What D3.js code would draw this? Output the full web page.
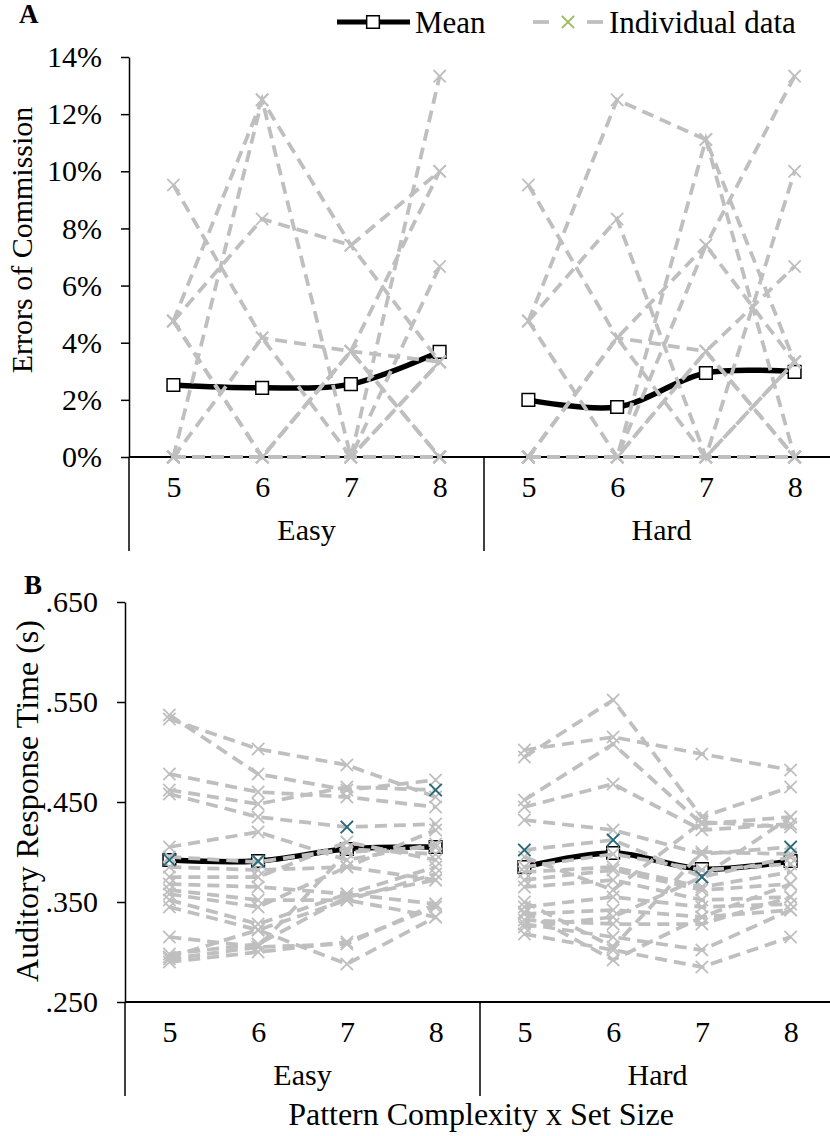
<!DOCTYPE html>
<html>
<head>
<meta charset="utf-8">
<script src="https://cdn.jsdelivr.net/npm/d3@7"></script>
<style>
  body { margin: 0; background: #fff; }
  svg { display: block; }
</style>
</head>
<body>
<div id="chart"></div>
<script>
// ---- data ----
const groups = ["Easy", "Hard"];
const setSizes = ["5", "6", "7", "8"];

// Panel A: errors of commission, percent. Order: Easy 5-8, Hard 5-8
const errMean = [2.52, 2.42, 2.55, 3.68, 2.00, 1.75, 2.94, 2.98];
const errIndividual = [
  [9.52, 4.17, 3.70, 3.33,   9.52, 4.17, 3.70, 0],
  [4.76, 8.33, 7.41, 10.00,  4.76, 8.33, 0, 10.00],
  [4.76, 0, 3.70, 0,         4.76, 0, 3.70, 6.67],
  [0, 12.50, 7.41, 3.33,     4.76, 12.50, 11.11, 3.33],
  [4.76, 12.50, 0, 13.33,    0, 0, 11.11, 0],
  [0, 4.17, 0, 6.67,         0, 4.17, 7.41, 13.33],
  [0, 0, 3.70, 0,            0, 0, 3.70, 0],
  [0, 0, 0, 3.33,            0, 0, 0, 3.33],
  [0, 0, 3.70, 10.00,        0, 0, 7.41, 3.33],
  [4.76, 0, 0, 3.33,         0, 4.17, 0, 3.33],
  [0, 0, 0, 0,               0, 0, 0, 0],
  [0, 0, 0, 0,               0, 0, 0, 0],
  [0, 0, 0, 0,               0, 0, 0, 0],
  [0, 0, 0, 0,               0, 0, 0, 0],
  [0, 0, 0, 0,               0, 0, 0, 0],
  [0, 0, 0, 0,               0, 0, 0, 0],
  [0, 0, 0, 0,               0, 0, 0, 0],
  [0, 0, 0, 0,               0, 0, 0, 0],
  [0, 0, 0, 0,               0, 0, 0, 0]
];
const errTicks = [0, 2, 4, 6, 8, 10, 12, 14];

// Panel B: auditory response time, seconds
const rtMean = [0.392, 0.391, 0.403, 0.405, 0.385, 0.399, 0.383, 0.391];
const rtHighlight = [0.392, 0.391, 0.425, 0.462, 0.402, 0.412, 0.375, 0.405];
const rtIndividual = [
  [0.537, 0.478, 0.462, 0.472,  0.502, 0.515, 0.498, 0.482],
  [0.533, 0.503, 0.487, 0.455,  0.495, 0.552, 0.435, 0.465],
  [0.478, 0.460, 0.455, 0.445,  0.452, 0.508, 0.428, 0.435],
  [0.462, 0.448, 0.465, 0.462,  0.445, 0.468, 0.422, 0.428],
  [0.458, 0.435, 0.425, 0.428,  0.432, 0.422, 0.398, 0.405],
  [0.405, 0.420, 0.392, 0.408,  0.402, 0.412, 0.375, 0.395],
  [0.395, 0.390, 0.403, 0.398,  0.385, 0.398, 0.382, 0.388],
  [0.385, 0.382, 0.385, 0.422,  0.372, 0.382, 0.362, 0.368],
  [0.375, 0.375, 0.410, 0.392,  0.365, 0.372, 0.352, 0.355],
  [0.368, 0.365, 0.358, 0.385,  0.345, 0.355, 0.345, 0.348],
  [0.362, 0.352, 0.352, 0.378,  0.338, 0.342, 0.335, 0.342],
  [0.358, 0.345, 0.385, 0.372,  0.332, 0.328, 0.328, 0.355],
  [0.352, 0.328, 0.358, 0.348,  0.328, 0.315, 0.302, 0.342],
  [0.345, 0.322, 0.352, 0.335,  0.318, 0.302, 0.285, 0.315],
  [0.315, 0.305, 0.400, 0.405,  0.340, 0.292, 0.335, 0.368],
  [0.298, 0.308, 0.355, 0.372,  0.325, 0.335, 0.375, 0.435],
  [0.295, 0.322, 0.288, 0.335,  0.350, 0.305, 0.400, 0.398],
  [0.293, 0.305, 0.308, 0.348,  0.395, 0.362, 0.430, 0.425],
  [0.290, 0.300, 0.310, 0.345,  0.380, 0.385, 0.365, 0.380]
];
const rtTicks = [0.25, 0.35, 0.45, 0.55, 0.65];

// ---- drawing ----
const W = 830, H = 1136;
const fontSize = 30;
const grey = "#bfbfbf";
const keys = groups.flatMap(g => setSizes.map(s => g + s));

const svg = d3.select("#chart").append("svg")
  .attr("width", W).attr("height", H)
  .style("background", "#fff");

const xSymbol = d3.symbol().type(d3.symbolX).size(100);
const squareSymbol = d3.symbol().type(d3.symbolSquare).size(160);

function drawPanel(o) {
  const g = svg.append("g");

  const x = d3.scalePoint().domain(keys).range([o.left, o.right]).padding(0.5);
  const y = d3.scaleLinear().domain(o.domain).range([o.bottom, o.top]);

  // y axis
  const yAxis = d3.axisLeft(y)
    .tickValues(o.ticks)
    .tickFormat(o.format)
    .tickSize(8)
    .tickSizeOuter(0)
    .tickPadding(19);
  const ya = g.append("g").attr("transform", `translate(${o.left},0)`).call(yAxis);
  ya.select(".domain").attr("stroke", "#000").attr("stroke-width", 1.5);
  ya.selectAll(".tick line").attr("stroke", "#000").attr("stroke-width", 1.5);

  // category axis line
  g.append("line")
    .attr("x1", o.left).attr("x2", W + 20)
    .attr("y1", y(o.domain[0])).attr("y2", y(o.domain[0]))
    .attr("stroke", "#000").attr("stroke-width", 2);

  // set size labels
  const xAxis = d3.axisBottom(x).tickSize(0).tickFormat(k => k.slice(-1));
  const xa = g.append("g").attr("transform", `translate(0,${o.bottom})`).call(xAxis);
  xa.select(".domain").remove();
  xa.selectAll(".tick text").attr("y", 40).attr("dy", 0);

  // group separators and labels
  const step = x.step();
  const bounds = [x(keys[0]) - step / 2, x(keys[4]) - step / 2, x(keys[7]) + step / 2];
  g.selectAll(".sep").data(bounds).enter().append("line")
    .attr("x1", d => d).attr("x2", d => d)
    .attr("y1", o.bottom).attr("y2", o.bottom + 94)
    .attr("stroke", "#000").attr("stroke-width", 1.5);
  g.selectAll(".grp").data(groups).enter().append("text")
    .attr("x", (d, i) => (x(keys[i * 4]) + x(keys[i * 4 + 3])) / 2)
    .attr("y", o.bottom + 83)
    .attr("text-anchor", "middle")
    .text(d => d);

  // y title
  g.append("text")
    .attr("class", "ytitle")
    .attr("transform", `translate(${o.titleX},${o.titleY}) rotate(-90)`)
    .attr("text-anchor", "middle")
    .attr("data-size", o.titleSize)
    .text(o.yTitle);

  // panel letter
  g.append("text")
    .attr("class", "letter")
    .attr("x", o.letterX).attr("y", o.letterY)
    .text(o.letter);

  const line = d3.line().x(d => x(d.k)).y(d => y(d.v));
  const smooth = d3.line().x(d => x(d.k)).y(d => y(d.v)).curve(d3.curveCatmullRom.alpha(0.5));

  // mean line (drawn first; individual lines sit on top of it)
  groups.forEach((grp, gi) => {
    const pts = setSizes.map((s, si) => ({ k: keys[gi * 4 + si], v: o.mean[gi * 4 + si] }));
    g.append("path").datum(pts)
      .attr("d", smooth)
      .attr("fill", "none").attr("stroke", "#000").attr("stroke-width", 5.5);
  });
  g.selectAll(".meanpt").data(o.mean).enter().append("path")
    .attr("d", squareSymbol)
    .attr("transform", (d, i) => `translate(${x(keys[i])},${y(d)})`)
    .attr("fill", "#fff").attr("stroke", "#000").attr("stroke-width", 1.5);

  // individual participants, one dashed line per difficulty group
  o.individual.forEach(row => {
    groups.forEach((grp, gi) => {
      const pts = setSizes.map((s, si) => ({ k: keys[gi * 4 + si], v: row[gi * 4 + si] }));
      g.append("path").datum(pts)
        .attr("d", line)
        .attr("fill", "none").attr("stroke", grey)
        .attr("stroke-width", 3.75).attr("stroke-dasharray", "12,7");
    });
    g.selectAll(null).data(row).enter().append("path")
      .attr("d", xSymbol)
      .attr("transform", (d, i) => `translate(${x(keys[i])},${y(d)})`)
      .attr("fill", "none").attr("stroke", grey).attr("stroke-width", 1.8);
  });

  if (o.highlight) {
    g.selectAll(".hl").data(o.highlight).enter().append("path")
      .attr("d", xSymbol)
      .attr("transform", (d, i) => `translate(${x(keys[i])},${y(d)})`)
      .attr("fill", "none").attr("stroke", "#276a7c").attr("stroke-width", 1.8);
  }
}

drawPanel({
  left: 129, right: 839, top: 57, bottom: 457,
  domain: [0, 14], ticks: errTicks, format: d => d + "%",
  mean: errMean, individual: errIndividual,
  yTitle: "Errors of Commission", titleX: 32, titleY: 240, titleSize: 30,
  letter: "A", letterX: 19, letterY: 23
});

drawPanel({
  left: 125, right: 835, top: 602, bottom: 1002,
  domain: [0.25, 0.65], ticks: rtTicks, format: d => d3.format(".3f")(d).replace(/^0/, ""),
  mean: rtMean, individual: rtIndividual, highlight: rtHighlight,
  yTitle: "Auditory Response Time (s)", titleX: 38, titleY: 801, titleSize: 32,
  letter: "B", letterX: 24, letterY: 594
});

// x title, centred on the plot area of panel B
svg.append("text")
  .attr("class", "xtitle")
  .attr("x", 481).attr("y", 1125)
  .attr("text-anchor", "middle")
  .text("Pattern Complexity x Set Size");

// legend
const legend = svg.append("g").attr("transform", "translate(0,22)");
legend.append("line")
  .attr("x1", 337).attr("x2", 410).attr("y1", 0).attr("y2", 0)
  .attr("stroke", "#000").attr("stroke-width", 5);
legend.append("path").attr("d", squareSymbol)
  .attr("transform", "translate(373,0)")
  .attr("fill", "#fff").attr("stroke", "#000").attr("stroke-width", 1.5);
legend.append("text").attr("class", "leg").attr("x", 415).attr("y", 11).text("Mean");
legend.selectAll(".ld").data([[533, 549], [587, 603]]).enter().append("line")
  .attr("x1", d => d[0]).attr("x2", d => d[1]).attr("y1", 0).attr("y2", 0)
  .attr("stroke", grey).attr("stroke-width", 3.75);
legend.append("path").attr("d", xSymbol)
  .attr("transform", "translate(568,0)")
  .attr("fill", "none").attr("stroke", "#9bbb59").attr("stroke-width", 1.8);
legend.append("text").attr("class", "leg").attr("x", 609).attr("y", 11).text("Individual data");

// fonts: inline style on every text
svg.selectAll("text")
  .style("font-family", "'Liberation Serif', 'Times New Roman', serif")
  .style("font-size", fontSize + "px")
  .style("fill", "#000");
svg.selectAll("text.leg").style("font-size", "31px");
svg.selectAll("text.xtitle").style("font-size", "32px");
svg.selectAll("text.ytitle").style("font-size", function () { return this.getAttribute("data-size") + "px"; });
svg.selectAll("text.letter").style("font-size", "27px").style("font-weight", "bold");
</script>
</body>
</html>
